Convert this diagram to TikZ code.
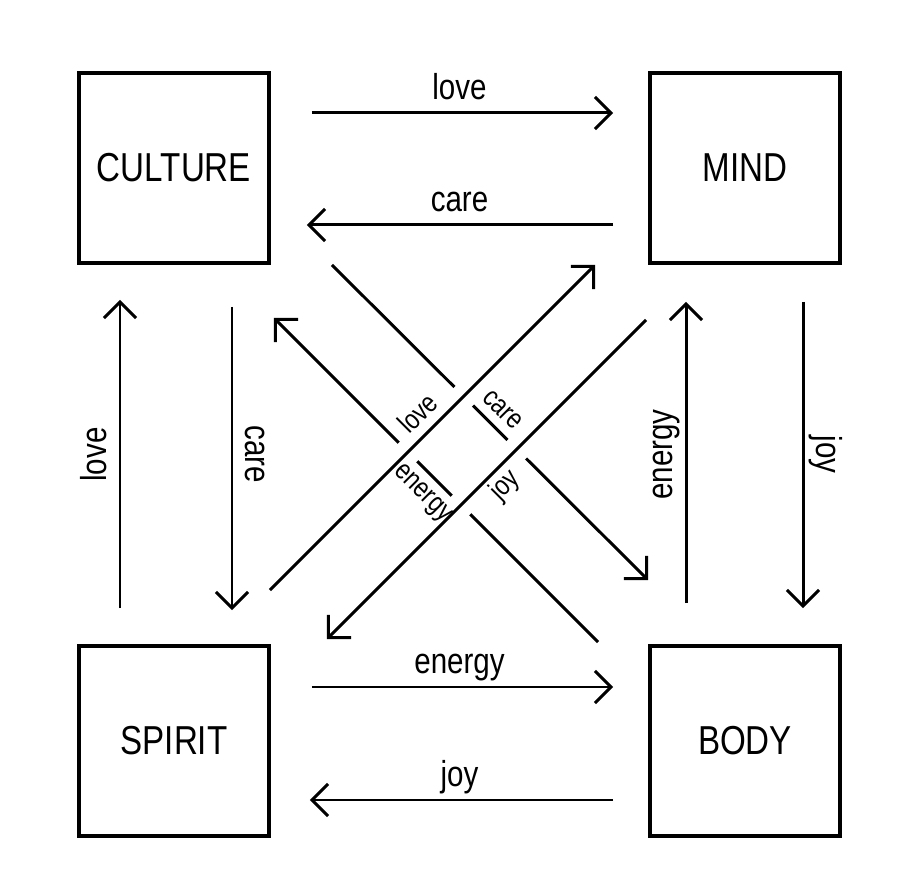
\documentclass[tikz,border=0pt]{standalone}
\usepackage{fontspec}
\setmainfont{Liberation Sans}[FakeStretch=0.82]
\usetikzlibrary{positioning, arrows.meta}

\begin{document}
\begin{tikzpicture}[
  box/.style={rectangle, draw, line width=2.2pt, minimum size=3.8cm,
              inner sep=0pt, font=\fontsize{23}{27}\selectfont},
  lbl/.style={font=\fontsize{20.5}{24}\selectfont, inner sep=2.5pt,
              text height=14.7pt, text depth=4.3pt},
  dlbl/.style={font=\fontsize{16}{19}\selectfont, inner sep=2.5pt,
               text height=11.5pt, text depth=3.4pt},
  arr/.style={-{Straight Barb[length=0.32cm, width=0.64cm, line width=1.7pt]},
              line width=1.7pt},
  over/.style={preaction={draw=white, line width=0.52cm, -}}
]
  \useasboundingbox (0,0) rectangle (18.48,17.64);

  % the four boxes
  \node[box] (culture) at (3.48, 14.28) {CULTURE};
  \node[box] (mind)    at (14.9, 14.28) {MIND};
  \node[box] (spirit)  at (3.48, 2.82)  {SPIRIT};
  \node[box] (body)    at (14.9, 2.82)  {BODY};

  % top and bottom rows
  \draw[arr, shorten <=0.82cm, shorten >=0.7cm]
    ([yshift=1.1cm]culture.east) -- ([yshift=1.1cm]mind.west)
    node[lbl, midway, anchor=south] {love};
  \draw[arr, shorten <=0.7cm, shorten >=0.72cm]
    ([yshift=-1.14cm]mind.west) -- ([yshift=-1.14cm]culture.east)
    node[lbl, midway, anchor=south] {care};
  \draw[arr, shorten <=0.82cm, shorten >=0.7cm]
    ([yshift=1.08cm]spirit.east) -- ([yshift=1.08cm]body.west)
    node[lbl, midway, anchor=south] {energy};
  \draw[arr, shorten <=0.7cm, shorten >=0.78cm]
    ([yshift=-1.18cm]body.west) -- ([yshift=-1.18cm]spirit.east)
    node[lbl, midway, anchor=south] {joy};

  % left and right columns
  \draw[arr, shorten <=0.72cm, shorten >=0.7cm]
    ([xshift=-1.08cm]spirit.north) -- ([xshift=-1.08cm]culture.south)
    node[lbl, midway, rotate=90, anchor=south] {love};
  \draw[arr, shorten <=0.84cm, shorten >=0.68cm]
    ([xshift=1.16cm]culture.south) -- ([xshift=1.16cm]spirit.north)
    node[lbl, midway, rotate=-90, anchor=south] {care};
  \draw[arr, shorten <=0.82cm, shorten >=0.74cm]
    ([xshift=-1.18cm]body.north) -- ([xshift=-1.18cm]mind.south)
    node[lbl, midway, rotate=90, anchor=south] {energy};
  \draw[arr, shorten <=0.74cm, shorten >=0.72cm]
    ([xshift=1.16cm]mind.south) -- ([xshift=1.16cm]body.north)
    node[lbl, midway, rotate=-90, anchor=south] {joy};

  % diagonals: care and energy pass under love and joy
  \draw[arr] ([xshift=1.22cm]culture.south east) -- ([yshift=1.28cm]body.north west)
    coordinate[pos=0.5] (carec);
  \draw[arr] ([shift={(-1.0,0.04)}]body.north west) -- ([shift={(0.06,-1.06)}]culture.south east)
    coordinate[pos=0.5] (energyc);
  \draw[arr, over] ([shift={(-0.02,1.08)}]spirit.north east) -- ([xshift=-1.06cm]mind.south west)
    coordinate[pos=0.5] (lovec);
  \draw[arr, over] ([shift={(-0.04,-1.1)}]mind.south west) -- ([shift={(1.12,0.1)}]spirit.north east)
    coordinate[pos=0.48] (joyc);

  % labels on the diagonals
  \node[dlbl, rotate=45, anchor=south]  at (lovec)   {love};
  \node[dlbl, rotate=45, anchor=north]  at (joyc)    {joy};
  \node[dlbl, rotate=-45, anchor=south] at (carec)   {care};
  \node[dlbl, rotate=-45, anchor=north] at (energyc) {energy};
\end{tikzpicture}
\end{document}
